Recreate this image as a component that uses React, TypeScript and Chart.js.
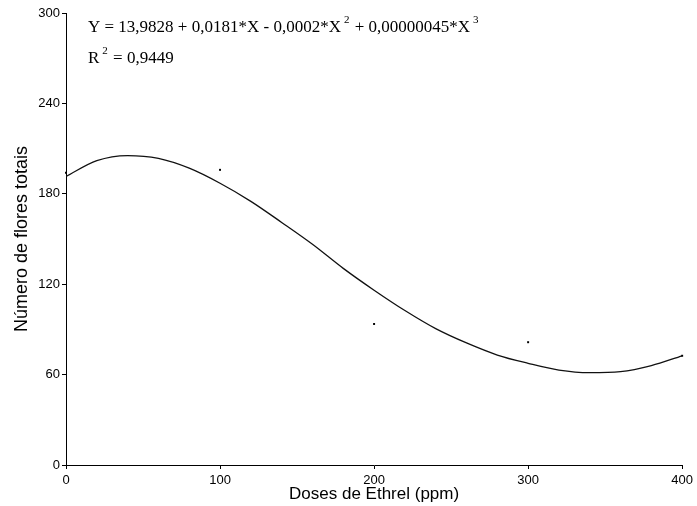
import React, { useEffect, useRef } from "react";
import { Chart, registerables } from "chart.js";

Chart.register(...registerables);

// Observed data (dose in ppm, number of flowers)
const doses = [0, 100, 200, 300, 400];
const flores = [194, 195.9, 93.6, 81.5, 72.5];

// Fitted curve
const curveX = [0, 20, 40, 60, 80, 100, 120, 140, 160, 180, 200, 220, 240, 260, 280, 300, 320, 340, 360, 380, 400];
const curveY = [191.5, 202, 205.4, 203.5, 197, 187, 175, 161, 146.5, 130.5, 116, 102.5, 90.5, 81, 73, 67.5, 63, 61.3, 62, 66, 72.5];

const xTicks = [0, 100, 200, 300, 400];
const yTicks = [0, 60, 120, 180, 240, 300];

const xTitle = "Doses de Ethrel (ppm)";
const yTitle = "Número de flores totais";

const eqParts: [string, boolean][] = [
  ["Y = 13,9828 + 0,0181*X - 0,0002*X", false],
  ["2", true],
  [" + 0,00000045*X", false],
  ["3", true],
];
const r2Parts: [string, boolean][] = [
  ["R", false],
  ["2", true],
  [" = 0,9449", false],
];

const annotationPlugin = {
  id: "equationText",
  afterDraw(chart: any) {
    const ctx = chart.ctx as CanvasRenderingContext2D;
    const drawLine = (parts: [string, boolean][], x: number, y: number) => {
      let cx = x;
      for (const [txt, sup] of parts) {
        ctx.font = sup ? "11px 'Liberation Serif', 'Times New Roman', serif" : "17px 'Liberation Serif', 'Times New Roman', serif";
        if (sup) cx += 3;
        ctx.fillText(txt, cx, sup ? y - 9 : y);
        cx += ctx.measureText(txt).width + (sup ? 1 : 0);
      }
    };
    ctx.save();
    ctx.fillStyle = "#000";
    ctx.textBaseline = "alphabetic";
    ctx.textAlign = "left";
    drawLine(eqParts, 88, 32);
    drawLine(r2Parts, 88, 63);
    ctx.restore();
  },
};

export default function App() {
  const ref = useRef<HTMLCanvasElement | null>(null);

  useEffect(() => {
    document.body.style.margin = "0";
    if (!ref.current) return;
    const tickFont = { family: "'Liberation Sans', Arial, sans-serif", size: 13 };
    const xTitleFont = { family: "'Liberation Sans', Arial, sans-serif", size: 17 };
    const yTitleFont = { family: "'Liberation Sans', Arial, sans-serif", size: 18 };
    const chart = new Chart(ref.current, {
      type: "scatter",
      data: {
        datasets: [
          {
            type: "line",
            data: curveX.map((x, i) => ({ x, y: curveY[i] })),
            borderColor: "#111",
            borderWidth: 1.3,
            pointRadius: 0,
            fill: false,
            cubicInterpolationMode: "monotone",
          } as any,
          {
            type: "scatter",
            data: doses.map((x, i) => ({ x, y: flores[i] })),
            pointStyle: "rect",
            pointRadius: 1.4,
            backgroundColor: "#000",
            borderColor: "#000",
            borderWidth: 0,
            clip: false,
          } as any,
        ],
      },
      plugins: [annotationPlugin],
      options: {
        animation: false,
        responsive: false,
        maintainAspectRatio: false,
        layout: { padding: { top: 13, right: 12, bottom: 0, left: 0 } },
        plugins: { legend: { display: false }, tooltip: { enabled: false } },
        scales: {
          x: {
            type: "linear",
            min: 0,
            max: 400,
            afterBuildTicks: (s: any) => {
              s.ticks = xTicks.map((v) => ({ value: v }));
            },
            ticks: { color: "#000", font: tickFont, padding: 4, maxRotation: 0 },
            grid: { drawOnChartArea: false, drawTicks: true, tickLength: 4, color: "#000" },
            border: { display: true, color: "#000", width: 1 },
            title: { display: true, text: xTitle, color: "#000", font: xTitleFont, padding: { top: 0, bottom: 1 } },
            afterFit: (s: any) => {
              s.height = 41;
            },
          },
          y: {
            type: "linear",
            min: 0,
            max: 300,
            afterBuildTicks: (s: any) => {
              s.ticks = yTicks.map((v) => ({ value: v }));
            },
            ticks: { color: "#000", font: tickFont, padding: 2 },
            grid: { drawOnChartArea: false, drawTicks: true, tickLength: 4, color: "#000" },
            border: { display: true, color: "#000", width: 1 },
            title: { display: true, text: yTitle, color: "#000", font: yTitleFont, padding: { top: 11, bottom: 0 } },
            afterFit: (s: any) => {
              s.width = 66;
            },
          },
        },
      },
    });
    return () => chart.destroy();
  }, []);

  return (
    <div style={{ position: "absolute", left: 0, top: 0, width: 697, height: 506, background: "#fff" }}>
      <canvas ref={ref} width={697} height={506} style={{ width: 697, height: 506, display: "block" }} />
    </div>
  );
}
